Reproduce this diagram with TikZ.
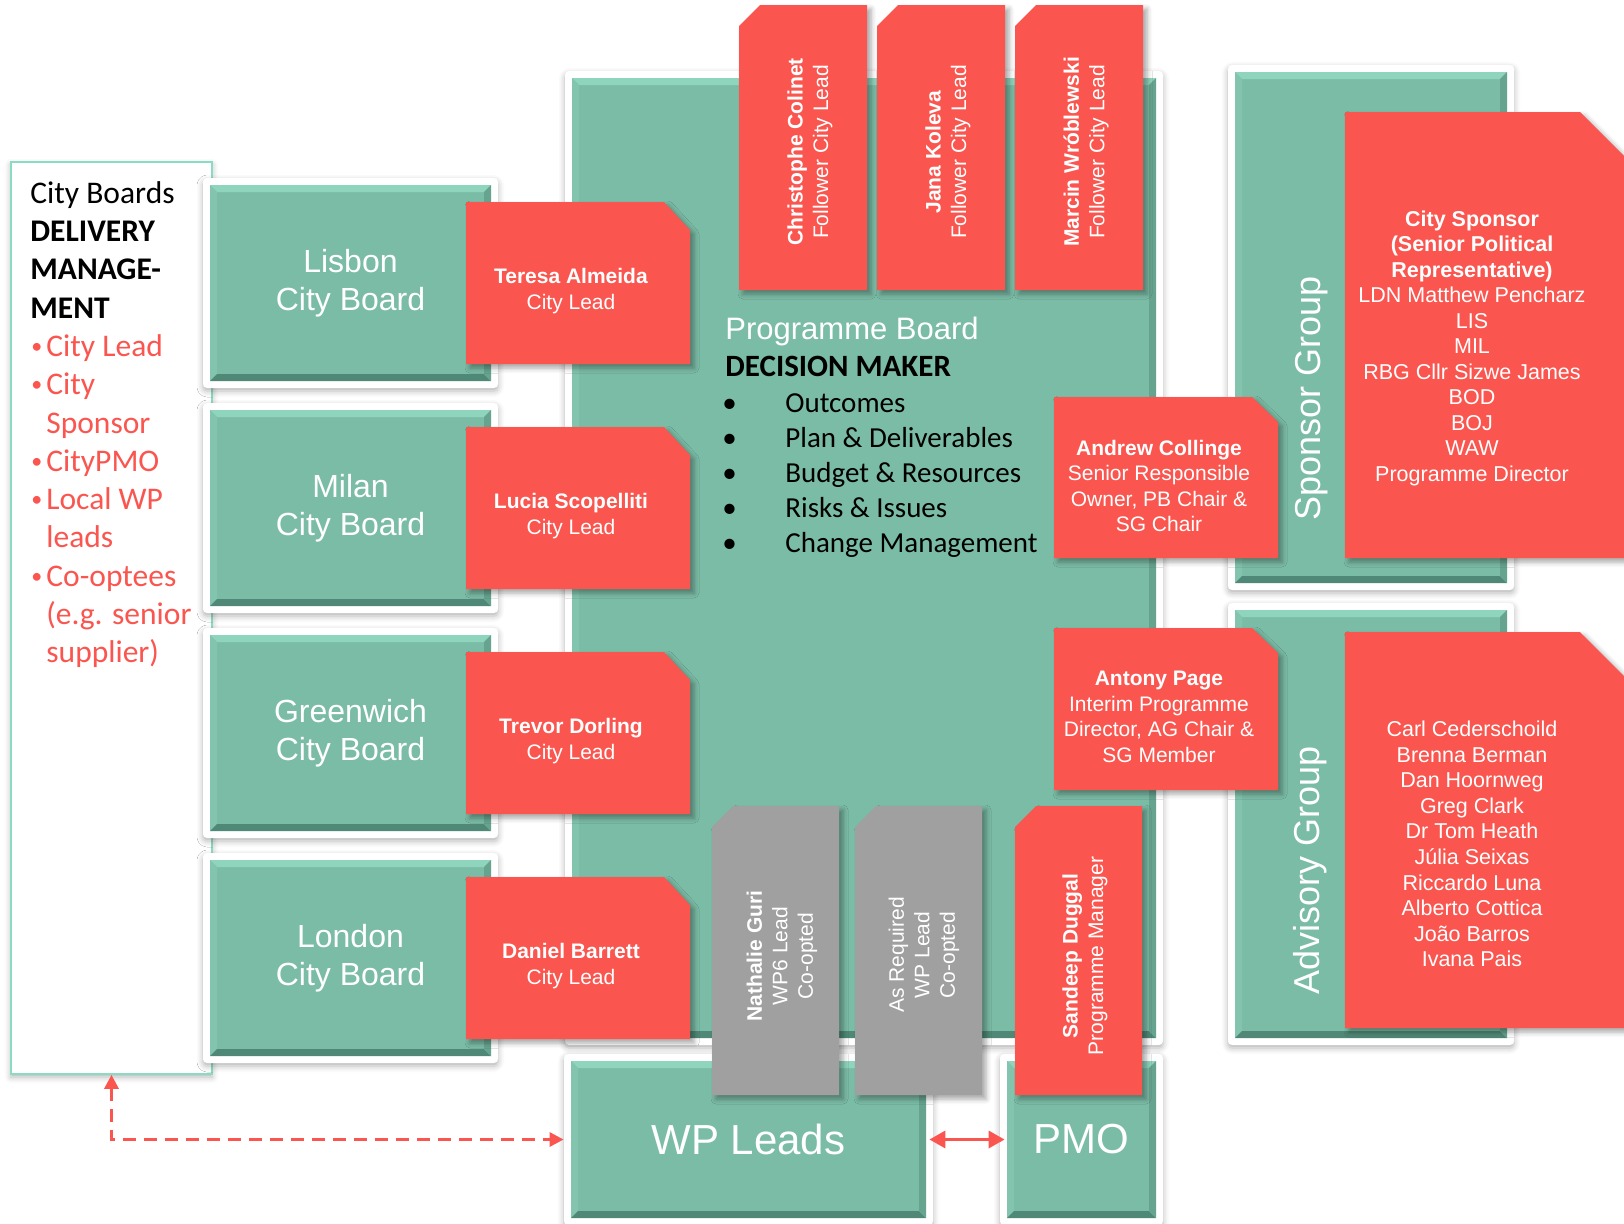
\documentclass[tikz,border=0pt]{standalone}
\usepackage{fontspec}
\setmainfont{Liberation Sans}
\newfontfamily\calibri{Carlito}
\usetikzlibrary{arrows.meta,shadows.blur}

\definecolor{pbteal}{HTML}{7BBCA6}
\definecolor{pbtealhi}{HTML}{8FD4BC}
\definecolor{pbtealdk}{HTML}{4F8876}
\definecolor{leadred}{HTML}{FA564F}
\definecolor{coopgray}{HTML}{A0A0A0}
\definecolor{edgeteal}{HTML}{8ADBC3}

% small bullet for the delivery list
\newcommand{\dmbullet}{\makebox[8pt][l]{\hspace{0.5pt}\raisebox{1.5pt}{\fontsize{11pt}{11pt}\selectfont •}}}

\begin{document}
\begin{tikzpicture}[x=0.5pt, y=-0.5pt]

\tikzstyle{facet} = [sharp corners]
\tikzstyle{frame} = [fill=white, rounded corners=2pt, inner sep=0pt, text=white, align=center,
  blur shadow={shadow xshift=0pt, shadow yshift=-1.5pt, shadow blur radius=3pt, shadow opacity=30}]
\tikzstyle{board} = [frame, font=\fontsize{16pt}{19pt}\selectfont,
  path picture={
    \coordinate (bnw) at ([shift={(3.5pt,-3.5pt)}]path picture bounding box.north west);
    \coordinate (bse) at ([shift={(-3.5pt,3.5pt)}]path picture bounding box.south east);
    \coordinate (bne) at (bnw -| bse);
    \coordinate (bsw) at (bse -| bnw);
    \fill[facet, pbteal] (bnw) rectangle (bse);
    \fill[facet, pbtealhi] (bnw) -- (bne) -- ([shift={(-3.5pt,-3.5pt)}]bne) -- ([shift={(3.5pt,-3.5pt)}]bnw) -- cycle;
    \fill[facet, pbteal!65!pbtealhi] (bnw) -- (bsw) -- ([shift={(3.5pt,3.5pt)}]bsw) -- ([shift={(3.5pt,-3.5pt)}]bnw) -- cycle;
    \fill[facet, pbtealdk] (bsw) -- (bse) -- ([shift={(-3.5pt,3.5pt)}]bse) -- ([shift={(3.5pt,3.5pt)}]bsw) -- cycle;
    \fill[facet, pbteal!55!pbtealdk] (bne) -- (bse) -- ([shift={(-3.5pt,3.5pt)}]bse) -- ([shift={(-3.5pt,-3.5pt)}]bne) -- cycle;
  }]
\tikzstyle{lead} = [fill=leadred, blur shadow={shadow xshift=2pt, shadow yshift=-2pt, shadow blur radius=2.5pt, shadow opacity=35}]
\tikzstyle{coop} = [lead, fill=coopgray]
\tikzstyle{leadtext} = [text=white, align=center, inner sep=0pt, font=\fontsize{10.5pt}{12.75pt}\selectfont]
\tikzstyle{grouplabel} = [text=white, rotate=90, inner sep=0pt, font=\fontsize{18pt}{21pt}\selectfont]
\tikzstyle{item} = [anchor=base west, inner sep=0pt, font=\calibri\fontsize{14.5pt}{17.5pt}\selectfont]

\useasboundingbox (0,0) rectangle (1624,1223);
\clip (0,0) rectangle (1624,1223);

% --- delivery management panel
\node[fill=white, draw=edgeteal, line width=0.8pt, minimum width=100.5pt, minimum height=456pt,
  blur shadow={shadow xshift=0pt, shadow yshift=-1.5pt, shadow blur radius=3pt, shadow opacity=30}]
  (delivery) at (111.5,618) {};
\node[anchor=north west, align=left, inner sep=0pt, font=\calibri\fontsize{15.75pt}{19.15pt}\selectfont]
  (deliverytext) at (30,181) {City Boards\\
  \textbf{DELIVERY}\\
  \textbf{MANAGE-}\\
  \textbf{MENT}\\
  \textcolor{leadred}{\dmbullet City Lead}\\
  \textcolor{leadred}{\dmbullet City}\\
  \textcolor{leadred}{\hspace*{8pt}Sponsor}\\
  \textcolor{leadred}{\dmbullet CityPMO}\\
  \textcolor{leadred}{\dmbullet Local WP}\\
  \textcolor{leadred}{\hspace*{8pt}leads}\\
  \textcolor{leadred}{\dmbullet Co-optees}\\
  \textcolor{leadred}{\hspace*{8pt}(e.g. senior}\\
  \textcolor{leadred}{\hspace*{8pt}supplier)}};

% --- city boards
\node[board, minimum width=147.5pt, minimum height=105pt] (lisbon) at (350.5,283) {Lisbon\\City Board};
\node[board, minimum width=147.5pt, minimum height=105pt] (milan) at (350.5,508) {Milan\\City Board};
\node[board, minimum width=147.5pt, minimum height=105pt] (greenwich) at (350.5,733) {Greenwich\\City Board};
\node[board, minimum width=147.5pt, minimum height=105pt] (london) at (350.5,958) {London\\City Board};

% --- programme board, groups, WP leads, PMO
\node[board, minimum width=299pt, minimum height=487pt] (progboard) at (864,558) {};
\node[board, minimum width=143pt, minimum height=262.5pt] (sponsor) at (1371,327.5) {};
\node[board, minimum width=143pt, minimum height=221pt] (advisory) at (1371,824) {};
\node[board, minimum width=184.5pt, minimum height=85.5pt, font=\fontsize{21pt}{25pt}\selectfont] (wpleads) at (748.5,1139.5) {WP Leads};
\node[board, minimum width=81.5pt, minimum height=85.5pt, font=\fontsize{21pt}{25pt}\selectfont] (pmo) at (1081.5,1139.5) {PMO};

% --- city leads
\fill[lead] (466,202) -- (664,202) -- (690,230) -- (690,364) -- (466,364) -- cycle;
\fill[lead] (466,427) -- (664,427) -- (690,455) -- (690,589) -- (466,589) -- cycle;
\fill[lead] (466,652) -- (664,652) -- (690,680) -- (690,814) -- (466,814) -- cycle;
\fill[lead] (466,877) -- (664,877) -- (690,905) -- (690,1039) -- (466,1039) -- cycle;
\node[leadtext] (almeida) at (571,291) {\textbf{Teresa Almeida}\\City Lead};
\node[leadtext] (scopelliti) at (571,516) {\textbf{Lucia Scopelliti}\\City Lead};
\node[leadtext] (dorling) at (571,741) {\textbf{Trevor Dorling}\\City Lead};
\node[leadtext] (barrett) at (571,966) {\textbf{Daniel Barrett}\\City Lead};

% --- follower city leads
\fill[lead] (739,26) -- (760,5) -- (867,5) -- (867,290) -- (739,290) -- cycle;
\fill[lead] (877,26) -- (898,5) -- (1005,5) -- (1005,290) -- (877,290) -- cycle;
\fill[lead] (1015,26) -- (1036,5) -- (1143,5) -- (1143,290) -- (1015,290) -- cycle;
\node[leadtext, rotate=90] (colinet) at (810,152) {\textbf{Christophe Colinet}\\Follower City Lead};
\node[leadtext, rotate=90] (koleva) at (948,152) {\textbf{Jana Koleva}\\Follower City Lead};
\node[leadtext, rotate=90] (wroblewski) at (1086,152) {\textbf{Marcin Wróblewski}\\Follower City Lead};

% --- programme board remit
\node[anchor=base west, inner sep=0pt, text=white, font=\fontsize{15.5pt}{18pt}\selectfont] (pbtitle) at (725,339) {Programme Board};
\node[anchor=base west, inner sep=0pt, font=\calibri\bfseries\fontsize{15.5pt}{18pt}\selectfont] (pbrole) at (725,376) {DECISION MAKER};
\node[item] (outcomes) at (722,412) {\makebox[31.5pt][l]{•}Outcomes};
\node[item] (plan) at (722,447) {\makebox[31.5pt][l]{•}Plan \& Deliverables};
\node[item] (budget) at (722,482) {\makebox[31.5pt][l]{•}Budget \& Resources};
\node[item] (risks) at (722,517) {\makebox[31.5pt][l]{•}Risks \& Issues};
\node[item] (change) at (722,552) {\makebox[31.5pt][l]{•}Change Management};

% --- chairs
\fill[lead] (1054,397) -- (1252,397) -- (1278,422) -- (1278,558) -- (1054,558) -- cycle;
\fill[lead] (1054,628) -- (1252,628) -- (1278,653) -- (1278,790) -- (1054,790) -- cycle;
\node[leadtext] (collinge) at (1159,486) {\textbf{Andrew Collinge}\\Senior Responsible\\Owner, PB Chair \&\\SG Chair};
\node[leadtext] (page) at (1159,717) {\textbf{Antony Page}\\Interim Programme\\Director, AG Chair \&\\SG Member};

% --- sponsor and advisory groups
\node[grouplabel] (sglabel) at (1312,398) {Sponsor Group};
\node[grouplabel] (aglabel) at (1310,870) {Advisory Group};
\fill[lead] (1345,112) -- (1580,112) -- (1640,172) -- (1640,558) -- (1345,558) -- cycle;
\fill[lead] (1345,632) -- (1580,632) -- (1640,692) -- (1640,1028) -- (1345,1028) -- cycle;
\node[leadtext, font=\fontsize{10.75pt}{12.75pt}\selectfont] (sponsors) at (1472,348)
  {\textbf{City Sponsor}\\\textbf{(Senior Political}\\\textbf{Representative)}\\LDN Matthew Pencharz\\LIS\\MIL\\RBG Cllr Sizwe James\\BOD\\BOJ\\WAW\\Programme Director};
\node[leadtext, font=\fontsize{10.75pt}{12.8pt}\selectfont] (advisors) at (1472,844)
  {Carl Cederschoild\\Brenna Berman\\Dan Hoornweg\\Greg Clark\\Dr Tom Heath\\Júlia Seixas\\Riccardo Luna\\Alberto Cottica\\João Barros\\Ivana Pais};

% --- WP leads and programme manager
\fill[coop] (712,827) -- (733,806) -- (839,806) -- (839,1095) -- (712,1095) -- cycle;
\fill[coop] (855,827) -- (876,806) -- (982,806) -- (982,1095) -- (855,1095) -- cycle;
\fill[lead] (1015,827) -- (1036,806) -- (1142,806) -- (1142,1095) -- (1015,1095) -- cycle;
\node[leadtext, rotate=90] (guri) at (782,956) {\textbf{Nathalie Guri}\\WP6 Lead\\Co-opted};
\node[leadtext, rotate=90] (asrequired) at (924,955) {As Required\\WP Lead\\Co-opted};
\node[leadtext, rotate=90] (duggal) at (1085,956) {\textbf{Sandeep Duggal}\\Programme Manager};

% --- links
\draw[leadred, line width=1.5pt, dash pattern=on 6.5pt off 4pt,
  arrows={Triangle[length=7pt,width=7pt]-Triangle[length=7pt,width=7pt]}]
  (delivery.south) |- (wpleads.west);
\draw[leadred, line width=1.7pt, shorten <=-2pt, shorten >=-2.5pt,
  arrows={Triangle[length=8pt,width=8.5pt]-Triangle[length=8pt,width=8.5pt]}]
  (wpleads.east) -- (pmo.west);

\end{tikzpicture}
\end{document}
